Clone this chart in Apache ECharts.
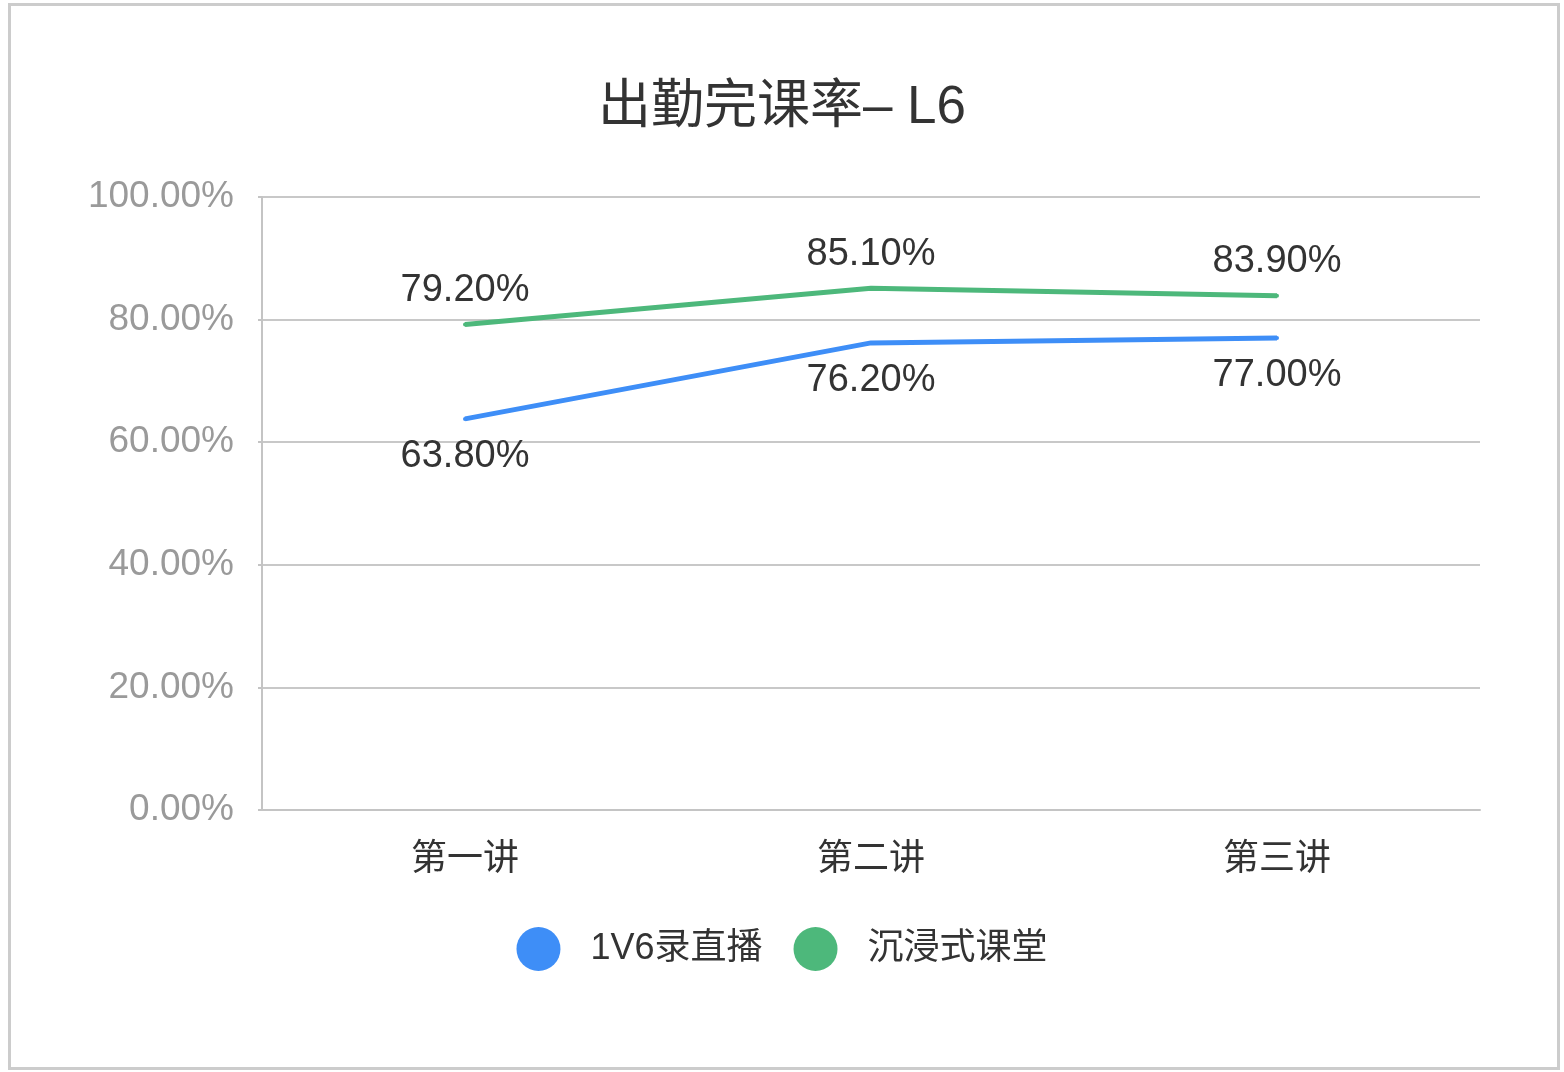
<!DOCTYPE html>
<html>
<head>
<meta charset="utf-8">
<script src="https://cdn.jsdelivr.net/npm/echarts@6/dist/echarts.min.js"></script>
<style>
html,body{margin:0;padding:0;background:#fff;}
#c{width:1564px;height:1072px;}
</style>
</head>
<body>
<div id="c"></div>
<script>
const categories = ['第一讲', '第二讲', '第三讲'];
const seriesNames = ['1V6录直播', '沉浸式课堂'];
const liveValues = [63.8, 76.2, 77.0];
const immersiveValues = [79.2, 85.1, 83.9];
const yTicks = [0, 20, 40, 60, 80, 100];

const FONT = "'Helvetica Neue', Arial, 'Liberation Sans', 'Noto Sans CJK SC', sans-serif";
const chart = echarts.init(document.getElementById('c'), null, {renderer: 'canvas'});
chart.setOption({
  backgroundColor: '#fff',
  animation: false,
  graphic: [{
    type: 'rect', left: 8, top: 3, z: -1,
    shape: {width: 1549, height: 1064},
    style: {fill: '#fff', stroke: '#cccccc', lineWidth: 3}
  }],
  title: {
    text: '出勤完课率– L6',
    left: 'center', top: 77,
    textStyle: {fontFamily: FONT, fontSize: 53, fontWeight: 'normal', color: '#333'}
  },
  legend: {
    data: seriesNames,
    top: 922, left: 'center',
    icon: 'circle', itemWidth: 44, itemHeight: 44, itemGap: 31,
    textStyle: {fontFamily: FONT, fontSize: 36, color: '#333', padding: [0, 0, 0, 25]}
  },
  grid: {left: 262, right: 84, top: 197, bottom: 262, containLabel: false},
  xAxis: {
    type: 'category', data: categories, boundaryGap: true,
    axisLine: {lineStyle: {color: '#c4c4c4', width: 2}},
    axisTick: {inside: true, length: 13, lineStyle: {color: '#c4c4c4', width: 2}},
    axisLabel: {fontFamily: FONT, fontSize: 36, color: '#333', margin: 32}
  },
  yAxis: {
    type: 'value', min: yTicks[0], max: yTicks[yTicks.length - 1], interval: 20,
    axisLine: {show: true, lineStyle: {color: '#c4c4c4', width: 2}},
    axisTick: {show: true, length: 4, lineStyle: {color: '#c4c4c4', width: 2}},
    splitLine: {lineStyle: {color: '#c8c8c8', width: 2}},
    axisLabel: {fontFamily: FONT, fontSize: 37, color: '#9a9a9a', margin: 28,
      formatter: v => v.toFixed(2) + '%'}
  },
  series: [
    {
      name: seriesNames[0], type: 'line', data: liveValues,
      color: '#3e8ef7', symbol: 'circle', symbolSize: 4,
      lineStyle: {width: 5, color: '#3e8ef7'},
      label: {show: true, position: 'bottom', distance: 17, fontFamily: FONT, fontSize: 38, color: '#333',
        formatter: p => p.value.toFixed(2) + '%'}
    },
    {
      name: seriesNames[1], type: 'line', data: immersiveValues,
      color: '#4db87b', symbol: 'circle', symbolSize: 4,
      lineStyle: {width: 5, color: '#4db87b'},
      label: {show: true, position: 'top', distance: 13, fontFamily: FONT, fontSize: 38, color: '#333',
        formatter: p => p.value.toFixed(2) + '%'}
    }
  ]
});
</script>
</body>
</html>
